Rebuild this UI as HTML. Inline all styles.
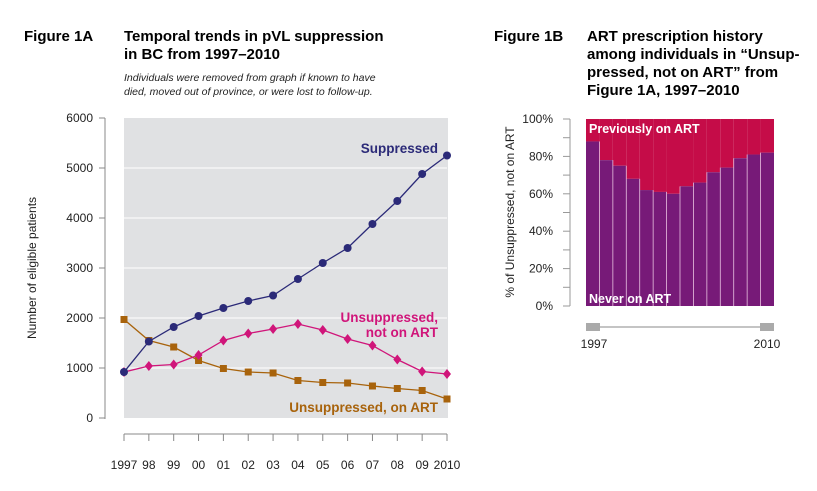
<!DOCTYPE html>
<html><head><meta charset="utf-8"><style>
body{margin:0;background:#fff;width:817px;height:486px;overflow:hidden}
svg{font-family:"Liberation Sans",Arial,sans-serif}
</style></head><body>
<svg id="svg" width="817" height="486">
<g>
<text x="24" y="41" font-size="15" font-weight="bold">Figure 1A</text>
<text x="124" y="41" font-size="15" font-weight="bold">Temporal trends in pVL suppression</text>
<text x="124" y="59" font-size="15" font-weight="bold">in BC from 1997–2010</text>
<text x="124" y="81" font-size="10.5" font-style="italic" fill="#222">Individuals were removed from graph if known to have</text>
<text x="124" y="95" font-size="10.5" font-style="italic" fill="#222">died, moved out of province, or were lost to follow-up.</text>
<text x="494" y="41" font-size="15" font-weight="bold">Figure 1B</text>
<text x="587" y="41" font-size="15" font-weight="bold">ART prescription history</text>
<text x="587" y="59" font-size="15" font-weight="bold">among individuals in “Unsup-</text>
<text x="587" y="77" font-size="15" font-weight="bold">pressed, not on ART” from</text>
<text x="587" y="95" font-size="15" font-weight="bold">Figure 1A, 1997–2010</text>
</g>
<g id="chartA"></g>
<g id="chartB"></g>
</svg>
<script>
const years = ["1997","98","99","00","01","02","03","04","05","06","07","08","09","2010"];
const yTicks = [0,1000,2000,3000,4000,5000,6000];
const suppressed = [920,1530,1820,2040,2200,2340,2450,2780,3100,3400,3880,4340,4880,5250];
const notOnArt = [920,1040,1070,1260,1550,1690,1780,1880,1760,1580,1450,1170,930,880];
const onArt = [1970,1550,1420,1150,990,920,900,750,710,700,640,590,550,380];
const neverPct = [88,78,75,68,62,61,60,64,66,71.5,74,79,81,82];
const pctTicks = [0,20,40,60,80,100];

const NS="http://www.w3.org/2000/svg";
function mk(parent,tag,attrs,text){const e=document.createElementNS(NS,tag);for(const k in attrs)e.setAttribute(k,attrs[k]);if(text!==undefined)e.textContent=text;parent.appendChild(e);return e;}

// Chart A
const A=document.getElementById('chartA');
const x0=124,x1=447,yb=418,yt=118,ymax=6000;
const xA=i=>x0+(x1-x0)*i/(years.length-1);
const yA=v=>yb-(yb-yt)*v/ymax;
let bg=mk(A,'rect',{x:x0,y:yt,width:x1-x0+1,height:yb-yt,fill:'#e0e1e3'});


yTicks.forEach(v=>{
  if(v>0&&v<6000){let g=mk(A,'line',{x1:x0,x2:x1,y1:yA(v),y2:yA(v),stroke:'#fff','stroke-width':1});
  
  }
  let t=mk(A,'line',{x1:99,x2:105,y1:yA(v),y2:yA(v),stroke:'#888'});
  
  
  let l=mk(A,'text',{x:93,y:yA(v)+4,'font-size':12,'text-anchor':'end',fill:'#222'},String(v));
  
  
});
let ax=mk(A,'line',{x1:105,x2:105,y1:yt,y2:yb+1,stroke:'#888'});


let xax=mk(A,'line',{x1:x0,x2:x1,y1:434,y2:434,stroke:'#888'});


years.forEach((y,i)=>{
  let t=mk(A,'line',{x1:xA(i),x2:xA(i),y1:434,y2:441,stroke:'#888'});
  
  
  let l=mk(A,'text',{x:xA(i),y:469,'font-size':12,'text-anchor':'middle',fill:'#222'},y);
  
  
});
let yt_=mk(A,'text',{transform:'translate(36,268) rotate(-90)','font-size':12,'text-anchor':'middle',fill:'#222'},'Number of eligible patients');



function series(data,color,shape,name){
  const g=mk(A,'g',{});
  
  
  const pl=mk(g,'polyline',{points:data.map((v,i)=>xA(i)+','+yA(v)).join(' '),fill:'none',stroke:color,'stroke-width':1.3});
  
  
  data.forEach((v,i)=>{
    const cx=xA(i),cy=yA(v);let m;
    if(shape==='c')m=mk(g,'circle',{cx,cy,r:4,fill:color});
    else if(shape==='s')m=mk(g,'rect',{x:cx-3.5,y:cy-3.5,width:7,height:7,fill:color});
    else m=mk(g,'polygon',{points:`${cx},${cy-5} ${cx+4},${cy} ${cx},${cy+5} ${cx-4},${cy}`,fill:color});
    
    
  });
}
series(onArt,'#a8630c','s','unsuppressed-on-art');
series(notOnArt,'#d0157a','d','unsuppressed-not-on-art');
series(suppressed,'#2b2a78','c','suppressed');
const labs=[['Suppressed',438,153,'#2b2a78'],['Unsuppressed,',438,322,'#d0157a'],['not on ART',438,337,'#d0157a'],['Unsuppressed, on ART',438,412,'#a8630c']];
labs.forEach(l=>{let t=mk(A,'text',{x:l[1],y:l[2],'font-size':13.5,'font-weight':'bold','text-anchor':'end',fill:l[3]},l[0]);

});

// Chart B
const B=document.getElementById('chartB');
const bx0=586,bx1=774,byb=306,byt=119;
const bw=(bx1-bx0)/neverPct.length;
const yB=p=>byb-(byb-byt)*p/100;
neverPct.forEach((p,i)=>{
  let r=mk(B,'rect',{x:bx0+i*bw,y:byt,width:bw,height:yB(p)-byt,fill:'#c50c48'});
  
  
  let r2=mk(B,'rect',{x:bx0+i*bw,y:yB(p),width:bw,height:byb-yB(p),fill:'#771a78'});
  
  
  if(i>0){let s=mk(B,'line',{x1:bx0+i*bw,x2:bx0+i*bw,y1:Math.min(yB(p),yB(neverPct[i-1])),y2:byb,stroke:'#e8c0e0','stroke-width':0.8});
  
  }
});
let bax=mk(B,'line',{x1:570,x2:570,y1:byt,y2:byb,stroke:'#999'});


for(let p=0;p<=100;p+=10){let t=mk(B,'line',{x1:563,x2:570,y1:yB(p),y2:yB(p),stroke:'#999'});

}
pctTicks.forEach(p=>{let l=mk(B,'text',{x:553,y:yB(p)+4,'font-size':12,'text-anchor':'end',fill:'#222'},p+'%');

});
let byt_=mk(B,'text',{transform:'translate(514,212) rotate(-90)','font-size':12,'text-anchor':'middle',fill:'#222'},'% of Unsuppressed, not on ART');


let t1=mk(B,'text',{x:589,y:133,'font-size':12.5,'font-weight':'bold',fill:'#fff'},'Previously on ART');


let t2=mk(B,'text',{x:589,y:303,'font-size':12.5,'font-weight':'bold',fill:'#fff'},'Never on ART');


let sl=mk(B,'line',{x1:bx0,x2:bx1,y1:327,y2:327,stroke:'#888'});


let h1=mk(B,'rect',{x:bx0,y:323,width:14,height:8,fill:'#aaa'});


let h2=mk(B,'rect',{x:bx1-14,y:323,width:14,height:8,fill:'#aaa'});


let s1=mk(B,'text',{x:594,y:348,'font-size':12,'text-anchor':'middle',fill:'#222'},years[0]);


let s2=mk(B,'text',{x:767,y:348,'font-size':12,'text-anchor':'middle',fill:'#222'},years[years.length-1]);


</script>
</body></html>
